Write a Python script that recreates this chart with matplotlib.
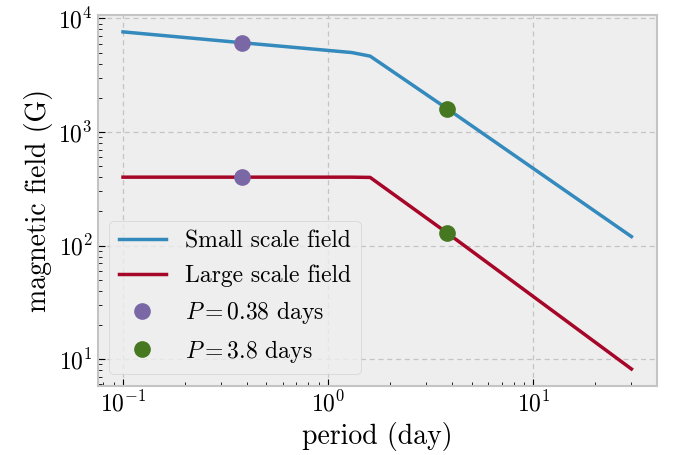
import matplotlib
matplotlib.use("Agg")
import matplotlib.pyplot as plt

# period (day) and field (G)
period = [0.1, 0.38, 1.3, 1.6, 3.8, 30]
small_field = [7600, 6100, 5000, 4650, 1600, 120]
large_field = [400, 400, 400, 398, 129, 8.2]

p_fast = 0.38
p_slow = 3.8
fast_vals = [6100, 400]
slow_vals = [1600, 129]

plt.style.use("bmh")
plt.rcParams["font.family"] = "serif"
plt.rcParams["font.serif"] = ["cmr10", "DejaVu Serif"]
plt.rcParams["mathtext.fontset"] = "cm"
plt.rcParams["axes.formatter.use_mathtext"] = True

fig, ax = plt.subplots(figsize=(6.73, 4.55), dpi=100)
ax.plot(period, small_field, color="#348ABD", linewidth=2.5, label="Small scale field")
ax.plot(period, large_field, color="#A60628", linewidth=2.5, label="Large scale field")
ax.plot([p_fast] * 2, fast_vals, "o", color="#7A68A6", markersize=11,
        linestyle="none", label=r"$P = 0.38$ days")
ax.plot([p_slow] * 2, slow_vals, "o", color="#467821", markersize=11,
        linestyle="none", label=r"$P = 3.8$ days")

ax.set_xscale("log")
ax.set_yscale("log")
ax.set_xlabel("period (day)", fontsize=20)
ax.set_ylabel("magnetic field (G)", fontsize=20)
ax.tick_params(which="both", direction="in", labelsize=17)
ax.tick_params(which="major", length=5)
ax.tick_params(which="minor", length=3)
ax.grid(True, which="major", linestyle=(0, (4, 3)), color="#c4c4c4", linewidth=0.9)
for sp in ax.spines.values():
    sp.set_linewidth(1.5)
    sp.set_color("#c4c4c4")
ax.legend(loc="lower left", fontsize=17, handlelength=2.0)

fig.subplots_adjust(left=0.145, right=0.976, top=0.967, bottom=0.152)
fig.savefig("out.png", dpi=100)
